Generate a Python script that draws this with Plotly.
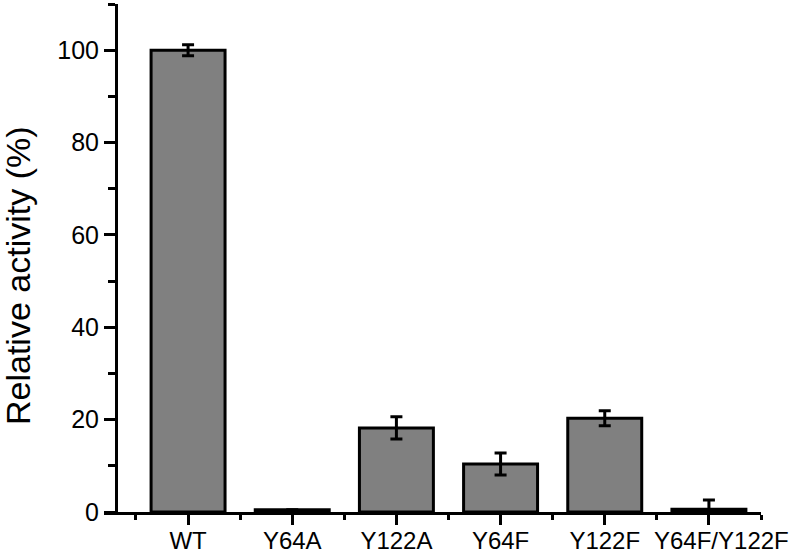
import plotly.graph_objects as go

categories = ["WT", "Y64A", "Y122A", "Y64F", "Y122F", "Y64F/Y122F"]
activity = [100.0, 0.5, 18.2, 10.4, 20.3, 0.6]
err_plus = [1.2, 0.0, 2.4, 2.4, 1.6, 2.0]
err_minus = [1.2, 0.0, 2.4, 2.4, 1.6, 0.6]
y_major_ticks = [0, 20, 40, 60, 80, 100]

positions = list(range(len(categories)))
minor_x = [p - 0.5 for p in positions] + [positions[-1] + 0.5]
# the last label sits slightly right of its tick in the reference, so it is drawn separately
tick_text = categories[:-1] + [""]

FONT = "Liberation Sans, Arial, sans-serif"

fig = go.Figure()
fig.add_trace(go.Bar(
    x=positions,
    y=activity,
    width=0.71,
    marker=dict(color="#808080", line=dict(color="black", width=3)),
    error_y=dict(type="data", symmetric=False, array=err_plus, arrayminus=err_minus,
                 color="black", thickness=3, width=6),
    showlegend=False,
    hoverinfo="skip",
))

fig.update_layout(
    width=800, height=554,
    margin=dict(l=104, r=39, t=4, b=42),
    plot_bgcolor="white", paper_bgcolor="white",
    font=dict(family=FONT, size=25, color="black"),
    xaxis=dict(
        range=[-0.807, 5.5],
        tickvals=positions, ticktext=tick_text,
        tickangle=0,
        showline=True, linewidth=3, linecolor="black",
        ticks="outside", ticklen=10, tickwidth=3, tickcolor="black",
        minor=dict(tickvals=minor_x, ticks="outside", ticklen=5, tickwidth=3, tickcolor="black"),
        showgrid=False, zeroline=False, automargin=False,
        ticklabelstandoff=-5,
        tickfont=dict(size=24),
    ),
    yaxis=dict(
        range=[0, 110],
        anchor="free", position=(116 - 104) / 657,
        tickvals=y_major_ticks,
        showline=True, linewidth=3, linecolor="black",
        ticks="outside", ticklen=11, tickwidth=3, tickcolor="black",
        minor=dict(dtick=10, tick0=0, ticks="outside", ticklen=7, tickwidth=3, tickcolor="black"),
        showgrid=False, zeroline=False, automargin=False,
        tickfont=dict(size=25),
    ),
    annotations=[
        dict(
            text="Relative activity (%)", textangle=-90,
            xref="paper", yref="paper",
            x=(18 - 104) / 657, y=(512 - 276) / 508,
            xanchor="center", yanchor="middle", showarrow=False,
            font=dict(family=FONT, size=34, color="black"),
        ),
        dict(
            text=categories[-1],
            xref="x", yref="paper",
            x=positions[-1], y=0, xshift=13, yshift=-28,
            xanchor="center", yanchor="middle", showarrow=False,
            font=dict(family=FONT, size=24, color="black"),
        ),
    ],
)

fig.write_html("out.html", config={"displayModeBar": False},
               post_script="document.body.style.margin='0';")
